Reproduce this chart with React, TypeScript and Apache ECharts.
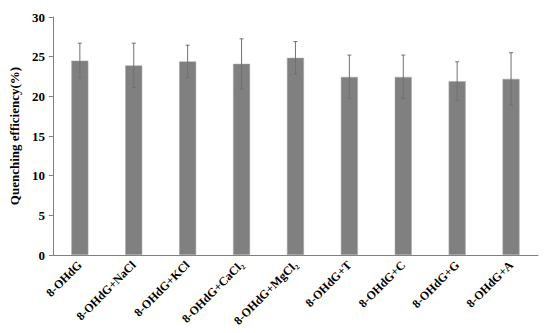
import React, { useEffect, useRef } from "react";
import * as echarts from "echarts";

const categories = [
  "8-OHdG",
  "8-OHdG+NaCl",
  "8-OHdG+KCl",
  "8-OHdG+CaCl₂",
  "8-OHdG+MgCl₂",
  "8-OHdG+T",
  "8-OHdG+C",
  "8-OHdG+G",
  "8-OHdG+A",
];
const values = [24.5, 23.9, 24.4, 24.1, 24.85, 22.45, 22.45, 21.9, 22.2];
const errors = [2.2, 2.8, 2.05, 3.15, 2.05, 2.75, 2.75, 2.45, 3.3];
const yTicks = [0, 5, 10, 15, 20, 25, 30];

const FONT = "'Liberation Serif', 'Times New Roman', serif";

export default function App() {
  const ref = useRef<HTMLDivElement>(null);
  useEffect(() => {
    if (!ref.current) return;
    const chart = echarts.init(ref.current, null, { renderer: "svg" });
    const errData = values.map((v, i) => [i, v - errors[i], v + errors[i]]);
    chart.setOption({
      animation: false,
      backgroundColor: "#ffffff",
      grid: { left: 43, right: 12, top: 17, bottom: 78 },
      xAxis: {
        type: "category",
        data: categories,
        axisLine: { lineStyle: { color: "#808080", width: 1 } },
        axisTick: { show: false },
        axisLabel: {
          rotate: 45,
          interval: 0,
          fontFamily: FONT,
          fontWeight: "bold",
          fontSize: 12,
          color: "#000",
          margin: 8,
        },
      },
      yAxis: {
        type: "value",
        min: yTicks[0],
        max: yTicks[yTicks.length - 1],
        interval: 5,
        name: "Quenching efficiency(%)",
        nameLocation: "middle",
        nameGap: 29,
        nameTextStyle: {
          fontFamily: FONT,
          fontWeight: "bold",
          fontSize: 13,
          color: "#000",
        },
        axisLine: { show: true, lineStyle: { color: "#808080", width: 1 } },
        axisTick: { show: true, length: 4, lineStyle: { color: "#808080" } },
        splitLine: { show: false },
        axisLabel: {
          fontFamily: FONT,
          fontWeight: "bold",
          fontSize: 13,
          color: "#000",
          margin: 8,
        },
      },
      series: [
        {
          type: "bar",
          data: values,
          barWidth: 17,
          itemStyle: { color: "#808080", borderColor: "#a8a8a8", borderWidth: 0.5 },
        },
        {
          type: "custom",
          data: errData,
          z: 10,
          renderItem: (params: any, api: any) => {
            const x = api.value(0);
            const lo = api.coord([x, api.value(1)]);
            const hi = api.coord([x, api.value(2)]);
            const cap = 2;
            const style = { stroke: "#707070", lineWidth: 1 };
            return {
              type: "group",
              children: [
                { type: "line", shape: { x1: hi[0], y1: hi[1], x2: lo[0], y2: lo[1] }, style },
                { type: "line", shape: { x1: hi[0] - cap, y1: hi[1], x2: hi[0] + cap, y2: hi[1] }, style },
                { type: "line", shape: { x1: lo[0] - cap, y1: lo[1], x2: lo[0] + cap, y2: lo[1] }, style },
              ],
            };
          },
        },
      ],
    });
    return () => chart.dispose();
  }, []);
  return <div ref={ref} style={{ width: 550, height: 333, position: "absolute", left: 0, top: 0 }} />;
}
